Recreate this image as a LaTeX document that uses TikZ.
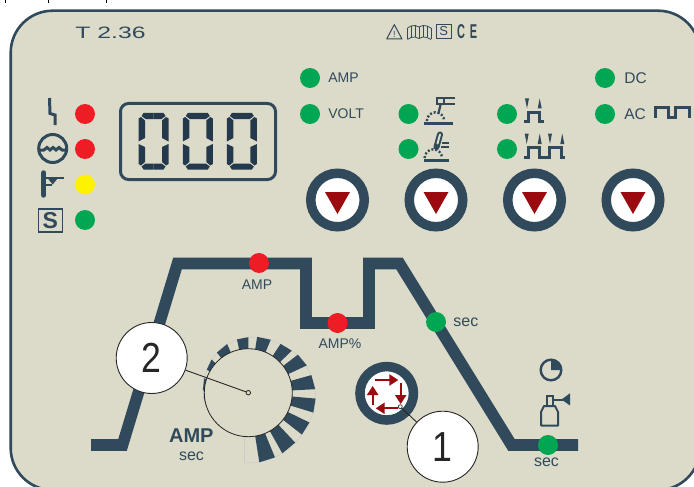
\documentclass[tikz,border=0pt]{standalone}
\usepackage{fontspec}
\setmainfont{Liberation Sans}
\usepackage{xcolor}
\usetikzlibrary{arrows.meta,positioning}
\definecolor{panelbg}{HTML}{DCDBC9}
\definecolor{slate}{HTML}{304A5C}
\definecolor{lcdink}{HTML}{243A4C}
\definecolor{ledred}{HTML}{EE1C25}
\definecolor{ledgreen}{HTML}{00A651}
\definecolor{ledyellow}{HTML}{FFF200}
\definecolor{arrowred}{HTML}{9B0A0E}
\newcommand{\lcdhalf}{
  \fill[lcdink] (5,0) -- (15,0) -- (15,6) -- (7,6) -- (3,3) -- cycle;
  \fill[lcdink] (0,5.5) -- (2.5,4) -- (6.5,7.5) -- (6.5,25) -- (0,28.5) -- cycle;
  \fill[lcdink] (0,31) -- (6.5,34) -- (6.5,49) -- (2.5,52.5) -- (0,51) -- cycle;
  \fill[lcdink] (7,50.5) -- (15,50.5) -- (15,56.5) -- (5,56.5) -- (3,53.5) -- cycle;
}
\begin{document}
\begin{tikzpicture}[
  x=1pt, y=-1pt,
  led/.style={circle, minimum size=20pt, inner sep=0pt},
  lbl/.style={inner sep=0pt, text=slate, font=\fontsize{14}{14}\selectfont},
  numcircle/.style={circle, draw=black!85, line width=0.9pt, fill=white, minimum size=71pt, inner sep=0pt, font=\fontsize{42}{42}\selectfont, text=black!85},
  leader/.style={draw=black!85, line width=0.9pt},
  ring/.style={circle, draw=slate, line width=9.5pt, fill=white, minimum size=53.5pt, inner sep=0pt},
  icon/.style={draw=slate, line width=2.6pt},
  thinicon/.style={draw=slate, line width=0.8pt},
  redarrow/.style={draw=arrowred, line width=2.2pt, -{Triangle[length=9pt,width=11pt]}}
]
\clip (0,0) rectangle (694,487);
\draw[black, line width=0.8pt] (5,0) -- (5,3) (48.3,0) -- (48.3,3) (106.7,0) -- (106.7,3);
\draw[fill=panelbg, draw=slate, line width=2.6pt, rounded corners=42pt] (10.7,10.7) rectangle (700,490);

\node[inner sep=0pt, text=slate, font=\fontsize{16.5}{16.5}\selectfont] (model) at (110.5,33) {\scalebox{1.5}[1]{T 2.36}};

\draw[thinicon, line join=round, line width=1pt] (386.7,39) -- (394.3,24.6) -- (402,39) -- cycle;
\node[inner sep=0pt, text=slate, font=\fontsize{9}{9}\selectfont] (warn) at (394.3,34) {!};
\foreach \bx/\btop in {407.5/28,411/26,415/25.5,419/27,423/25.5,427/26,431/28} {
  \draw[thinicon] (\bx,\btop) -- (\bx,\btop+11.5);
}
\draw[thinicon] (407.5,28) -- (411,26) -- (415,25.5) -- (419,27) -- (423,25.5) -- (427,26) -- (431,28);
\draw[thinicon] (407.5,39.5) -- (411,37.5) -- (415,37) -- (419,38.5) -- (423,37) -- (427,37.5) -- (431,39.5);
\node[draw=slate, line width=1pt, minimum width=15.5pt, minimum height=14.5pt, inner sep=0pt, text=slate, font=\fontsize{13}{13}\selectfont] (sbox) at (443.8,31.5) {S};
\node[inner sep=0pt, text=slate, font=\fontsize{20}{20}\selectfont\bfseries] (cemark) at (467.2,32) {\scalebox{.55}[1]{C\kern9pt E}};

\node[led, fill=ledred] (ledvrd) at (85,114) {};
\node[led, fill=ledred] (ledpool) at (85,149) {};
\node[led, fill=ledyellow] (ledtorch) at (85,184.5) {};
\node[led, fill=ledgreen] (ledsafe) at (85,220) {};

\draw[icon, line width=3pt, line join=miter] (49.5,98) -- (50,113.5) -- (55,115) -- (55,125);
\draw[icon, line width=3pt] (52.7,148.5) circle[radius=14];
\draw[icon, line width=3pt] plot[smooth] coordinates {(39,150) (44,150) (47,147.5) (50,150) (53,147.5) (56,150) (59,147.5) (62,150) (67,150)};
\draw[icon, line width=5.5pt, line cap=round] (43.7,173) -- (43.7,195);
\draw[icon, line width=1.6pt] (46,178) -- (64,178);
\fill[slate] (47.5,178) -- (58,178) -- (52.7,184.5) -- cycle;
\draw[icon, line width=2pt] (46,185) -- (52,185);
\node[draw=slate, line width=1.4pt, minimum width=24pt, minimum height=23pt, inner sep=0pt, text=slate, font=\fontsize{23}{23}\selectfont\bfseries] (sboxbig) at (50.3,220.5) {S};

\draw[slate, line width=3pt, rounded corners=8pt] (120.5,103.5) rectangle (275.5,179.5);
\foreach \dx in {138.5,182.8,226.9} {
  \begin{scope}[shift={(\dx,113)}]
    \lcdhalf
    \begin{scope}[shift={(30,0)}, xscale=-1]
      \lcdhalf
    \end{scope}
  \end{scope}
}

\node[led, fill=ledgreen] (ledamp) at (310,78) {};
\node[led, fill=ledgreen] (ledvolt) at (310,114) {};
\node[led, fill=ledgreen] (ledtig) at (408.5,114) {};
\node[led, fill=ledgreen] (ledmma) at (408.5,149) {};
\node[led, fill=ledgreen] (ledtwo) at (507,114) {};
\node[led, fill=ledgreen] (ledfour) at (507,149) {};
\node[led, fill=ledgreen] (leddc) at (605,78) {};
\node[led, fill=ledgreen] (ledac) at (605,114) {};
\node[lbl, right=8pt of ledamp] (txtamp) {AMP};
\node[lbl, right=8pt of ledvolt] (txtvolt) {VOLT};
\node[lbl, right=9pt of leddc, font=\fontsize{15.5}{15.5}\selectfont] (txtdc) {DC};
\node[lbl, right=9pt of ledac, font=\fontsize{15.5}{15.5}\selectfont] (txtac) {AC};

\draw[icon] (424.3,123.3) -- (452.7,123.3);
\draw[icon, line width=2.4pt, dash pattern=on 2pt off 1.9pt] (426.8,121) arc[start angle=180, end angle=360, radius=8.7];
\draw[thinicon, line width=2pt] (437.3,98.5) rectangle (444,104);
\draw[icon, line width=2pt] (444,98.5) -- (455,98.5) (444,104) -- (455,104);
\draw[icon, line width=2.2pt] (440.7,104) -- (438.3,114);
\draw[icon] (424.3,160.3) -- (449,160.3);
\draw[icon, line width=2.4pt, dash pattern=on 2pt off 1.9pt] (424.6,158) arc[start angle=180, end angle=360, radius=8.7];
\draw[icon, line width=6pt, line cap=round] (440,134.5) -- (436.5,147);
\draw[draw=panelbg, line width=2pt, line cap=round] (440,134.5) -- (437.5,143.5);
\draw[icon, line width=2pt] (442,142.5) -- (449,142.5) (441,147) -- (449,147);

\fill[slate] (525,98.3) -- (529,98.3) -- (527,108.3) -- cycle;
\fill[slate] (539.7,98.3) -- (537.7,108.3) -- (541.7,108.3) -- cycle;
\draw[icon, line width=3pt] (524,121.7) -- (528.3,121.7) -- (528.3,112.7) -- (539.3,112.7) -- (539.3,121.7) -- (544,121.7);
\fill[slate] (524.7,133.5) -- (528.7,133.5) -- (526.7,144) -- cycle;
\fill[slate] (539.7,133.5) -- (537.7,144) -- (541.7,144) -- cycle;
\fill[slate] (548,133.5) -- (552,133.5) -- (550,144) -- cycle;
\fill[slate] (562.3,133.5) -- (560.3,144) -- (564.3,144) -- cycle;
\draw[icon, line width=3pt] (524,157.3) -- (528.3,157.3) -- (528.3,147.3) -- (539.3,147.3) -- (539.3,157.3) -- (549.3,157.3) -- (549.3,147.3) -- (561.7,147.3) -- (561.7,157.3) -- (565,157.3);
\draw[icon, line width=3pt] (655.7,117.5) -- (655.7,108) -- (668.7,108) -- (668.7,117) -- (675,117) -- (675,108) -- (689,108) -- (689,117.5);

\node[ring] (btnone) at (337.5,200) {};
\node[ring] (btntwo) at (436,200) {};
\node[ring] (btnthree) at (534.5,200) {};
\node[ring] (btnfour) at (633,200) {};
\fill[arrowred] (325,192) -- (350,192) -- (337.5,214) -- cycle;
\fill[arrowred] (423.5,192) -- (448.5,192) -- (436,214) -- cycle;
\fill[arrowred] (522,192) -- (547,192) -- (534.5,214) -- cycle;
\fill[arrowred] (620.5,192) -- (645.5,192) -- (633,214) -- cycle;

\draw[slate, line width=11.6pt, line join=miter] (91,445) -- (122.5,445) -- (177.5,263.5) -- (306,263.5) -- (306,323) -- (369,323) -- (369,263.5) -- (399.5,263.5) -- (511.5,445) -- (578,445);
\node[led, fill=ledred] (ledpeak) at (259,263) {};
\node[led, fill=ledred] (ledbase) at (337.5,323) {};
\node[led, fill=ledgreen] (ledslope) at (436,322) {};
\node[led, fill=ledgreen] (ledpost) at (548,445) {};
\node[lbl, below=6pt of ledpeak, xshift=-2pt] (txtpeak) {AMP};
\node[lbl, below=5pt of ledbase, xshift=2.5pt] (txtbase) {AMP\%};
\node[lbl, right=7pt of ledslope, font=\fontsize{16}{16}\selectfont] (txtslope) {sec};
\node[lbl, below=2pt of ledpost, xshift=-1.5pt, font=\fontsize{16}{16}\selectfont] (txtpost) {sec};

\draw[icon, line width=2.4pt] (551,370) circle[radius=10.3];
\fill[slate] (551,370) -- (551,359.7) arc[start angle=270, end angle=360, radius=10.3] -- cycle;
\draw[icon, line width=2pt, line join=round] (541,425.5) -- (541,412) -- (544,406) -- (555,406) -- (558,412) -- (558,425.5) -- cycle;
\draw[icon, line width=2pt] (546.7,405.5) -- (546.7,395.5) -- (553.3,395.5) -- (553.3,405.5);
\draw[icon, line width=2pt] (553.3,399.5) -- (563,399.5);
\fill[slate] (561.5,399.5) -- (570,393.3) -- (570,405.5) -- cycle;

\begin{scope}[shift={(248.3,392.7)}, yscale=-1]
  \draw[gray!40, line width=0.6pt] plot[smooth] coordinates {(-93.3:70.5) (-75:70.3) (-54:69) (-32:68) (-11:68) (9:66) (31:63.5) (50:59) (74:57) (96:55) (120:52) (145:48) (165:46) (180:45) (195:44)};
  \draw[gray!40, line width=0.6pt] (-4,-40) -- (-4,-70.4);
  \foreach \aa/\ab/\ra/\rb in {-81/-67.6/70.5/70,-60.7/-46.8/69.5/68.5,-38/-26/68/68,-17/-5/68/67.5,3/15.6/67/65.5,25/37.5/64.5/62.5,44/56.5/60.5/58.5,67/81/57.5/56.5,90/102/55.5/54.5,113.5/128/53/51,138/151/49.5/47.5,162/177/46.5/45.5,185/198/45/44.3} {
    \fill[slate] (\aa:38) -- (\aa:\ra) -- (\ab:\rb) -- (\ab:38) -- cycle;
  }
\end{scope}
\node[circle, draw=black!85, line width=0.8pt, fill=panelbg, minimum size=88pt, inner sep=0pt] (knob) at (248.3,392.7) {};
\node[circle, draw=black!85, line width=0.8pt, fill=panelbg, minimum size=4.5pt, inner sep=0pt] (knobpin) at (248.3,392.7) {};
\node[inner sep=0pt, text=slate, font=\fontsize{20}{20}\selectfont\bfseries] (txtknob) at (191.3,435.8) {AMP};
\node[lbl, font=\fontsize{16}{16}\selectfont] (txtknobsec) at (191.5,456) {sec};

\node[ring] (btnprog) at (386.7,393.3) {};
\draw[redarrow] (375,380) -- (398.3,380);
\draw[redarrow] (400.7,382.7) -- (400.7,404);
\draw[redarrow] (398.3,408.3) -- (375.7,408.3);
\draw[redarrow] (372.7,405) -- (372.7,386);
\node[circle, draw=black!85, line width=0.7pt, fill=white, minimum size=4pt, inner sep=0pt] (progpin) at (400.3,406.7) {};

\node[numcircle] (numtwo) at (151.7,358) {\scalebox{.85}[1]{2}};
\node[numcircle] (numone) at (442.7,446.7) {\scalebox{.85}[1]{1}};
\draw[leader] (numtwo) -- (knobpin);
\draw[leader] (numone) -- (progpin);
\end{tikzpicture}
\end{document}
